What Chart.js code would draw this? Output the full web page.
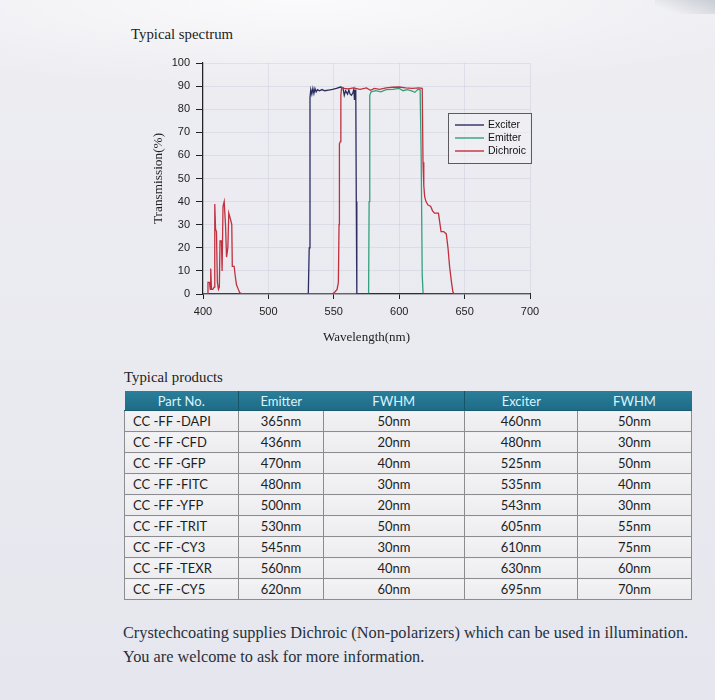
<!DOCTYPE html>
<html>
<head>
<meta charset="utf-8">
<script src="https://cdn.jsdelivr.net/npm/chart.js@4.4.1/dist/chart.umd.min.js"></script>
<style>
  html, body { margin: 0; padding: 0; }
  body {
    width: 715px; height: 700px; position: relative; overflow: hidden;
    background:
      radial-gradient(ellipse 520px 90px at 300px 0px, rgba(255,255,255,0.75), rgba(255,255,255,0) 100%),
      linear-gradient(180deg, #ededf2 0%, #e9eaf0 60%, #e6e7ee 100%);
  }
  .corner {
    position: absolute; right: 0; top: 0; width: 60px; height: 14px;
    background: linear-gradient(200deg, #c9ccd4 0%, rgba(201,204,212,0) 80%);
  }
  .heading {
    position: absolute; font-family: "Liberation Serif", serif; font-size: 14.8px; color: #222;
  }
  #chartBox { position: absolute; left: 140px; top: 50px; width: 410px; height: 300px; }
  table {
    position: absolute; left: 124px; top: 391px; width: 567px;
    border-collapse: collapse; table-layout: fixed;
    font-family: Lato, "Open Sans", sans-serif; font-size: 13px; color: #1e1e1e;
  }
  th {
    height: 19px; padding: 0; font-weight: normal; color: #d9f3ff;
    background: linear-gradient(180deg, #2a7f9a 0%, #1f6b86 100%);
    border-bottom: 1px solid #1a5a72;
  }
  th.sep { border-left: 1px solid #16546c; }
  td {
    height: 20px; padding: 0; text-align: center;
    border: 1px solid #8a8c90;
    background: linear-gradient(180deg, #f3f3f5 0%, #ececef 100%);
  }
  td.part { text-align: left; padding-left: 8px; }
  .note {
    position: absolute; left: 123px; top: 621px; width: 592px;
    font-family: "Liberation Serif", serif; font-size: 16.3px; line-height: 24px; color: #26303c;
    white-space: nowrap;
  }
</style>
</head>
<body>
<div class="corner"></div>
<div class="heading" style="left:131px; top:26px;">Typical spectrum</div>
<div id="chartBox"><canvas id="spectrumChart" width="410" height="300"></canvas></div>
<div class="heading" style="left:124px; top:369px;">Typical products</div>
<table id="products"></table>
<div class="note">Crystechcoating supplies Dichroic (Non-polarizers) which can be used in illumination.<br>You are welcome to ask for more information.</div>

<script>
// axis ticks (the first tick is printed as 400 on the original chart)
const xTickValues = [450, 500, 550, 600, 650, 700];
const xTickLabels = ['400', '500', '550', '600', '650', '700'];

// Exciter curve
const exciterX = [450, 530.5, 531.2, 531.8, 532.4, 533.2, 534, 534.8, 535.6, 536.5, 537.5, 539, 541, 543, 546, 549, 552, 555, 557, 558, 559, 560.5, 561.5, 562.5, 563.5, 564.5, 565.3, 565.8, 566.3, 566.8, 567.2, 567.6, 700];
const exciterY = [0, 0, 20, 85, 88.5, 86.5, 89, 86.8, 89, 87.5, 88.5, 88, 88.5, 88, 88.3, 88.6, 89, 89.6, 89.2, 86, 88, 86.5, 88.3, 86.5, 86, 87, 88.5, 84, 88, 88.5, 40, 0, 0];

// Emitter curve
const emitterX = [450, 576.6, 577.0, 577.5, 578.5, 582, 586, 590, 595, 600, 603, 606, 609, 612, 614, 616, 616.8, 617.6, 618.3, 700];
const emitterY = [0, 0, 40, 86, 87.5, 88, 87.5, 88.5, 88.6, 89, 88, 88.5, 88, 87.3, 88.5, 88.5, 60, 8, 0, 0];

// Dichroic curve
const dichroicX = [450, 453.2, 453.8, 455.0, 455.5, 455.9, 456.5, 457.5, 458.5, 459.0, 459.6, 460.3, 461.0, 461.8, 462.5, 463.0, 464.1, 464.6, 465.3, 466.2, 467.2, 468.0, 469.0, 469.7, 471.2, 472.0, 472.4, 473.8, 474.6, 475.6, 477.0, 478.1, 480.7,
  549, 551, 552.5, 553.5, 554, 554.3, 555, 555.4, 556, 558, 561, 565, 570, 575, 578, 581, 585, 590, 595, 600, 605, 610, 615, 617.6, 618.2, 618.8, 619.5, 620.5, 622, 624, 625.5, 627, 630, 631, 632, 634, 636, 637.3, 638.5, 640, 641, 642, 700];
const dichroicY = [0, 0, 5, 5, 2, 11, 2, 2, 3, 39, 28, 27, 5, 2, 3, 23, 23, 10, 38, 40, 30, 16, 20, 35, 32, 30, 12, 12, 8, 4, 2, 0.5, 0,
  0, 1, 2, 5, 30, 65, 66, 86, 89.5, 89, 88.8, 89.2, 88.6, 89.2, 88.2, 89, 88.6, 89.2, 89.5, 89.6, 89.2, 89, 89.2, 89, 57, 47, 42, 40, 38.5, 38, 36, 35, 35, 31, 27, 27, 26, 20, 12, 5, 1, 0, 0];

// table
const tableHead = ['Part No.', 'Emitter', 'FWHM', 'Exciter', 'FWHM'];
const partNos = ['CC -FF -DAPI', 'CC -FF -CFD', 'CC -FF -GFP', 'CC -FF -FITC', 'CC -FF -YFP', 'CC -FF -TRIT', 'CC -FF -CY3', 'CC -FF -TEXR', 'CC -FF -CY5'];
const emitterNm = ['365nm', '436nm', '470nm', '480nm', '500nm', '530nm', '545nm', '560nm', '620nm'];
const emitterFwhm = ['50nm', '20nm', '40nm', '30nm', '20nm', '50nm', '30nm', '40nm', '60nm'];
const exciterNm = ['460nm', '480nm', '525nm', '535nm', '543nm', '605nm', '610nm', '630nm', '695nm'];
const exciterFwhm = ['50nm', '30nm', '50nm', '40nm', '30nm', '55nm', '75nm', '60nm', '70nm'];

function toPoints(xs, ys) {
    return xs.map((x, i) => ({ x: x, y: ys[i] }));
}

document.addEventListener('DOMContentLoaded', function() {

    // build the products table
    const colWidths = [114, 85, 141, 113, 114];
    let html = '<colgroup>' + colWidths.map(w => `<col style="width:${w}px">`).join('') + '</colgroup>';
    html += '<tr>' + tableHead.map((h, i) => `<th class="${(i === 1 || i === 3) ? 'sep' : ''}">${h}</th>`).join('') + '</tr>';
    partNos.forEach((p, i) => {
        html += `<tr><td class="part">${p}</td><td>${emitterNm[i]}</td><td>${emitterFwhm[i]}</td><td>${exciterNm[i]}</td><td>${exciterFwhm[i]}</td></tr>`;
    });
    document.getElementById('products').innerHTML = html;

    // legend drawn inside the plot
    const boxLegend = {
        id: 'boxLegend',
        afterDatasetsDraw(chart) {
            const ctx = chart.ctx;
            const area = chart.chartArea;
            const left = area.right - 82, top = area.top + 50;
            ctx.save();
            ctx.fillStyle = 'rgba(240,240,245,0.6)';
            ctx.fillRect(left, top, 83, 50);
            ctx.strokeStyle = '#5a5a60';
            ctx.lineWidth = 1;
            ctx.strokeRect(left + 0.5, top + 0.5, 83, 50);
            ctx.font = '10.5px "Liberation Sans", Arial, sans-serif';
            ctx.textBaseline = 'middle';
            chart.data.datasets.forEach((ds, i) => {
                const y = top + 12 + i * 13;
                ctx.strokeStyle = ds.borderColor;
                ctx.lineWidth = 1.4;
                ctx.beginPath();
                ctx.moveTo(left + 7, y);
                ctx.lineTo(left + 36, y);
                ctx.stroke();
                ctx.fillStyle = '#111';
                ctx.fillText(ds.label, left + 40, y);
            });
            ctx.restore();
        }
    };

    const ctx = document.getElementById('spectrumChart').getContext('2d');
    const spectrumChart = new Chart(ctx, {
        type: 'line',
        data: {
            datasets: [
                { label: 'Exciter', data: toPoints(exciterX, exciterY), borderColor: '#2c2e60', borderWidth: 1.3, order: 2 },
                { label: 'Emitter', data: toPoints(emitterX, emitterY), borderColor: '#33a07c', borderWidth: 1.3, order: 3 },
                { label: 'Dichroic', data: toPoints(dichroicX, dichroicY), borderColor: '#c0303f', borderWidth: 1.3, order: 1 }
            ]
        },
        options: {
            responsive: false,
            animation: false,
            layout: { padding: { left: 0, top: 13, right: 20, bottom: 0 } },
            elements: { point: { radius: 0 }, line: { tension: 0 } },
            plugins: { legend: { display: false }, tooltip: { enabled: false } },
            scales: {
                x: {
                    type: 'linear',
                    min: 450,
                    max: 700,
                    afterBuildTicks: scale => { scale.ticks = xTickValues.map(v => ({ value: v })); },
                    afterFit: scale => { scale.height = 56; },
                    grid: { color: 'rgba(195,197,212,0.38)', tickColor: '#222', tickLength: 5 },
                    border: { color: '#222', width: 1.2 },
                    ticks: {
                        color: '#222', padding: 6, maxRotation: 0,
                        font: { family: '"Liberation Sans", Arial, sans-serif', size: 11 },
                        callback: value => xTickLabels[xTickValues.indexOf(value)]
                    },
                    title: {
                        display: true, text: 'Wavelength(nm)', color: '#222',
                        font: { family: '"Liberation Serif", serif', size: 13 },
                        padding: { top: 0, bottom: 5 }
                    }
                },
                y: {
                    min: 0,
                    max: 100,
                    afterFit: scale => { scale.width = 63; },
                    grid: { color: 'rgba(195,197,212,0.38)', tickColor: '#222', tickLength: 7 },
                    border: { color: '#222', width: 1.2 },
                    ticks: {
                        stepSize: 10, color: '#222', padding: 6,
                        font: { family: '"Liberation Sans", Arial, sans-serif', size: 11 }
                    },
                    title: {
                        display: true, text: 'Transmission(%)', color: '#222',
                        font: { family: '"Liberation Serif", serif', size: 13.3 },
                        padding: { top: 11, bottom: 0 }
                    }
                }
            }
        },
        plugins: [boxLegend]
    });
});
</script>
</body>
</html>
